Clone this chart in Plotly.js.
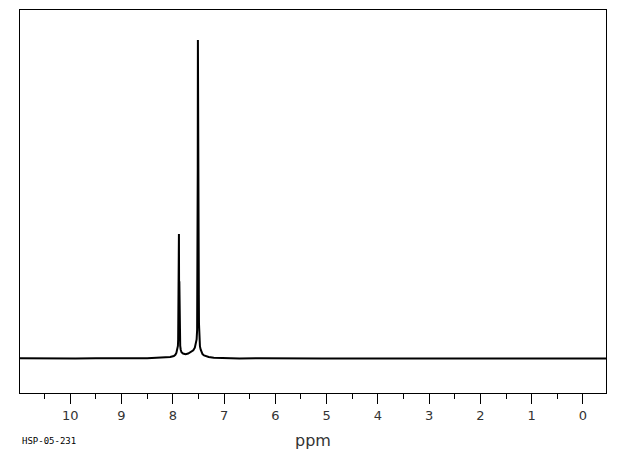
<!DOCTYPE html>
<html>
<head>
<meta charset="utf-8">
<script src="https://cdn.plot.ly/plotly-3.0.1.min.js"></script>
<style>html,body{margin:0;padding:0;background:#fff;}#chart{width:620px;height:455px;}</style>
</head>
<body>
<div id="chart"></div>
<script>
// Chemical shift (ppm) and relative intensity
const shiftPpm = [
  10.98, 10.6, 10.2, 9.9, 9.5, 9.1, 8.8, 8.5, 8.2, 8.05, 7.98, 7.95, 7.93, 7.91, 7.90, 7.895, 7.89, 7.885, 7.882, 7.88, 7.877, 7.875, 7.872, 7.87, 7.866, 7.862, 7.855, 7.845, 7.83, 7.80, 7.75, 7.70, 7.65, 7.60, 7.57, 7.55, 7.535, 7.525, 7.52, 7.516, 7.513, 7.51, 7.507, 7.504, 7.501, 7.498, 7.495, 7.492, 7.489, 7.485, 7.478, 7.47, 7.455, 7.44, 7.42, 7.39, 7.35, 7.3, 7.2, 7.0, 6.7, 6.3, 5.9, 5.5, 5.1, 4.7, 4.3, 3.9, 3.5, 3.1, 2.7, 2.3, 1.9, 1.5, 1.1, 0.7, 0.3, -0.1, -0.45
];
const intensity = [
  0.001, 0.000, 0.001, 0.000, 0.001, 0.000, 0.001, 0.001, 0.003, 0.005, 0.008, 0.012, 0.018, 0.028, 0.040, 0.060, 0.120, 0.240, 0.300, 0.391, 0.200, 0.180, 0.243, 0.200, 0.100, 0.060, 0.040, 0.028, 0.020, 0.016, 0.014, 0.016, 0.020, 0.026, 0.034, 0.045, 0.060, 0.090, 0.200, 0.480, 0.600, 1.000, 0.340, 0.500, 0.927, 0.480, 0.337, 0.200, 0.110, 0.070, 0.050, 0.038, 0.028, 0.020, 0.014, 0.010, 0.007, 0.005, 0.003, 0.001, 0.000, 0.001, 0.000, 0.001, 0.000, 0.000, 0.001, 0.000, 0.000, 0.001, 0.000, 0.000, 0.001, 0.000, 0.000, 0.001, 0.000, 0.000, 0.000
];
const tickValues = [10, 9, 8, 7, 6, 5, 4, 3, 2, 1, 0];
const tickLabels = ["10", "9", "8", "7", "6", "5", "4", "3", "2", "1", "0"];
const axisTitle = "ppm";
const sampleId = "HSP-05-231";

const trace = {
  x: shiftPpm,
  y: intensity,
  type: "scatter",
  mode: "lines",
  line: {color: "#000", width: 2},
  hoverinfo: "skip"
};

const layout = {
  width: 620,
  height: 455,
  margin: {l: 20, r: 14, t: 10, b: 62},
  paper_bgcolor: "#fff",
  plot_bgcolor: "#fff",
  showlegend: false,
  xaxis: {
    range: [10.98, -0.45],
    tickmode: "array",
    tickvals: tickValues,
    ticktext: tickLabels,
    ticks: "outside",
    ticklen: 10,
    tickwidth: 1,
    tickcolor: "#000",
    minor: {dtick: 0.5, ticks: "outside", ticklen: 5, tickwidth: 1, tickcolor: "#000"},
    showgrid: false,
    zeroline: false,
    showline: true,
    linecolor: "#000",
    linewidth: 1,
    mirror: true,
    tickfont: {family: "DejaVu Sans", size: 13, color: "#333"},
    title: {text: axisTitle, font: {family: "DejaVu Sans", size: 16, color: "#333"}, standoff: 13}
  },
  yaxis: {
    range: [-0.108, 1.094],
    showticklabels: false,
    ticks: "",
    showgrid: false,
    zeroline: false,
    showline: true,
    linecolor: "#000",
    linewidth: 1,
    mirror: true
  },
  annotations: [{
    text: sampleId,
    xref: "paper", yref: "paper",
    x: 0, y: -0.125,
    xanchor: "left", yanchor: "middle",
    showarrow: false,
    font: {family: "DejaVu Sans Mono", size: 9, color: "#000"}
  }]
};

Plotly.newPlot("chart", [trace], layout, {displayModeBar: false, staticPlot: true});
</script>
</body>
</html>
